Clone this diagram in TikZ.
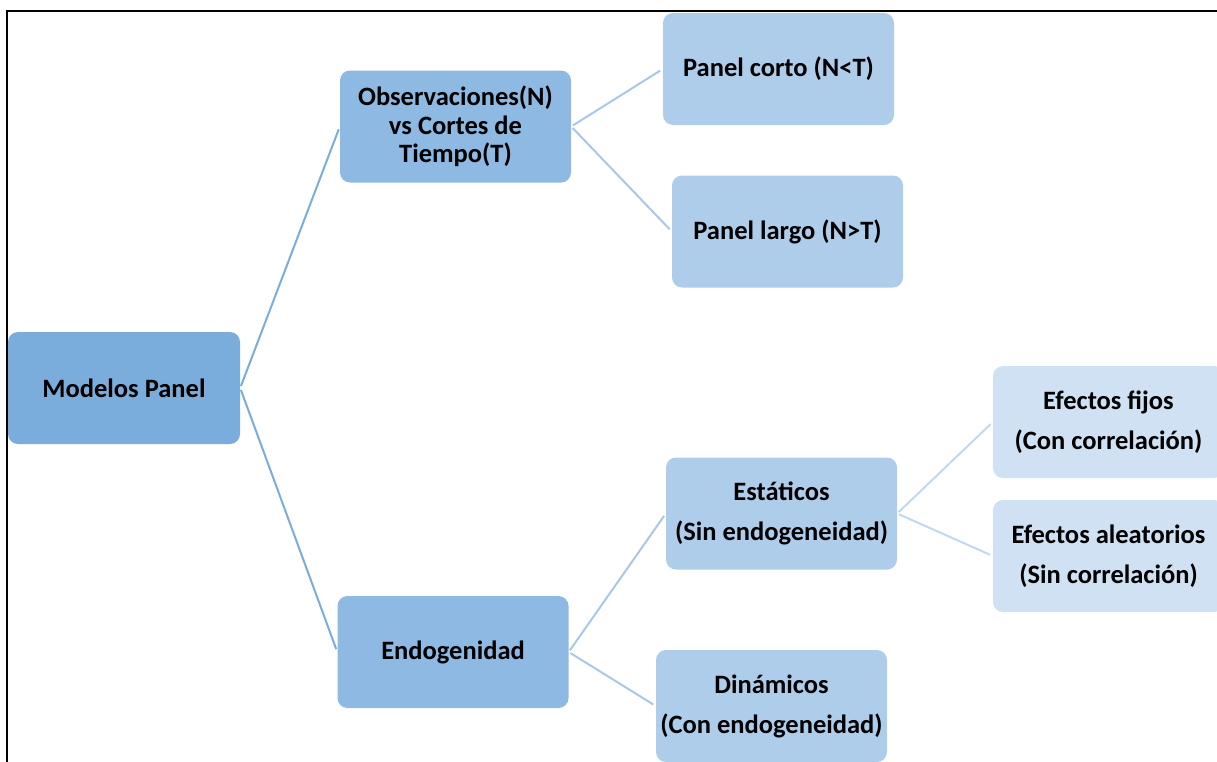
\documentclass[tikz,border=0pt]{standalone}
\usepackage{fontspec}
\setmainfont{Carlito}
\definecolor{rootblue}{HTML}{7AADDC}
\definecolor{onefill}{HTML}{8DB9E3}
\definecolor{twofill}{HTML}{AECDEB}
\definecolor{threefill}{HTML}{CFE1F3}
\definecolor{oneline}{HTML}{A9C8E8}
\definecolor{twoline}{HTML}{C3D8EE}
\begin{document}
\begin{tikzpicture}[
       x = 1pt, y = -1pt,
     box/.style = {shape=rectangle, rounded corners=10pt, inner sep=0pt,
                   minimum width=231pt, minimum height=112pt, align=center,
                   font=\fontsize{26.5}{28.5}\selectfont\bfseries},
    root/.style = {box, fill=rootblue, minimum width=232pt},
  lvlone/.style = {box, fill=onefill},
  lvltwo/.style = {box, fill=twofill},
lvlthree/.style = {box, fill=threefill},
      br/.style = {line width=2pt, shorten <=2pt, shorten >=3pt}
                    ]
\useasboundingbox (0,0) rectangle (1217,761);
\draw[line width=2.4pt] (1230,11) -- (7,11) -- (7,775);

\node[root] (mp) at (124,388) {Modelos Panel};
\node[lvlone] (obs) at (455.5,126.5) {Observaciones(N)\\vs Cortes de\\Tiempo(T)};
\node[lvlone] (endo) at (453,652) {Endogenidad};
\node[lvltwo] (corto) at (778.5,69) {Panel corto (N<T)};
\node[lvltwo] (largo) at (787.5,231.5) {Panel largo (N>T)};
\node[lvltwo] (estat) at (781.5,513.5) {Estáticos\\[11.5pt](Sin endogeneidad)};
\node[lvltwo] (dinam) at (771.5,706) {Dinámicos\\[11.5pt](Con endogeneidad)};
\node[lvlthree] (fijos) at (1108.5,422) {Efectos fijos\\[11.5pt](Con correlación)};
\node[lvlthree] (aleat) at (1108.5,556) {Efectos aleatorios\\[11.5pt](Sin correlación)};

\path [-] (mp.east) edge[br, color=rootblue] (obs.west);
\path [-] (mp.east) edge[br, color=rootblue] (endo.west);
\path [-] (obs.east) edge[br, color=oneline] (corto.west);
\path [-] (obs.east) edge[br, color=oneline] (largo.west);
\path [-] (endo.east) edge[br, color=oneline] (estat.west);
\path [-] (endo.east) edge[br, color=oneline] (dinam.west);
\path [-] (estat.east) edge[br, color=twoline] (fijos.west);
\path [-] (estat.east) edge[br, color=twoline] (aleat.west);

\end{tikzpicture}
\end{document}
